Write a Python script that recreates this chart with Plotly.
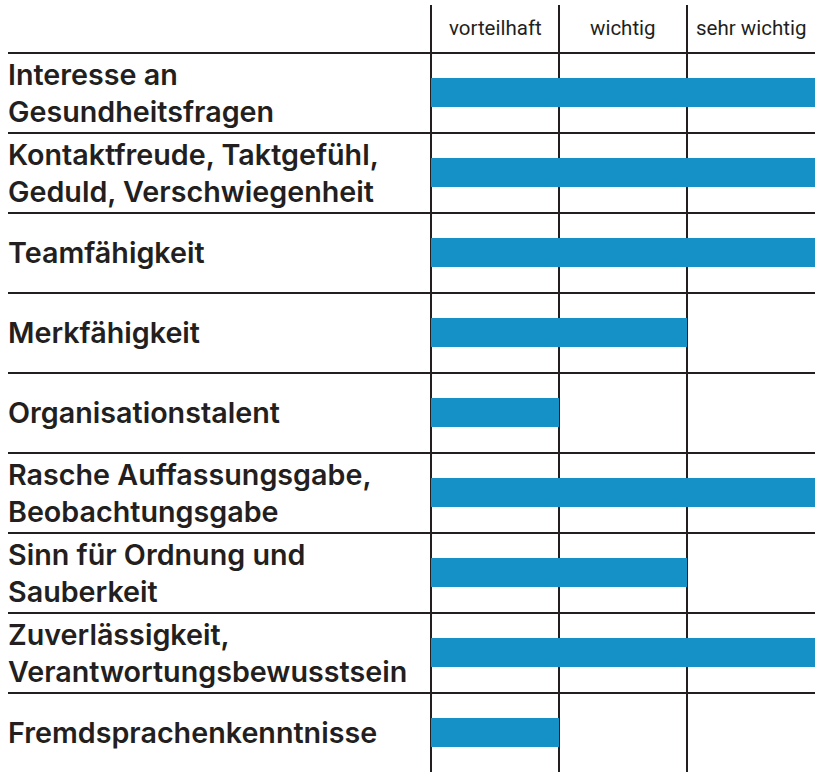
import plotly.graph_objects as go

categories = [
    "Interesse an<br>Gesundheitsfragen",
    "Kontaktfreude, Taktgefühl,<br>Geduld, Verschwiegenheit",
    "Teamfähigkeit",
    "Merkfähigkeit",
    "Organisationstalent",
    "Rasche Auffassungsgabe,<br>Beobachtungsgabe",
    "Sinn für Ordnung und<br>Sauberkeit",
    "Zuverlässigkeit,<br>Verantwortungsbewusstsein",
    "Fremdsprachenkenntnisse",
]
values = [3, 3, 3, 2, 1, 3, 2, 3, 1]
levels = ["vorteilhaft", "wichtig", "sehr wichtig"]

BAR = "#1591C8"
INK = "#231F20"
rows = list(range(len(categories)))

fig = go.Figure()
fig.add_trace(go.Bar(
    x=values, y=rows, base=0, orientation="h",
    marker=dict(color=BAR, line=dict(width=0)),
    width=0.3625, hoverinfo="skip",
))

annotations = []
for i, lab in enumerate(categories):
    annotations.append(dict(
        x=0, xref="paper", y=i, yref="y", text=lab, showarrow=False,
        xanchor="left", yanchor="middle", align="left", xshift=-2,
        font=dict(family="Inter", size=28.7, color=INK, weight=600),
    ))
for j, lv in enumerate(levels):
    annotations.append(dict(
        x=j + 0.5, xref="x", y=-0.81, yref="y", text=lv, showarrow=False,
        xanchor="center", yanchor="middle",
        font=dict(family="Roboto", size=20.5, color=INK, weight=400),
    ))

fig.update_layout(
    width=821, height=784,
    margin=dict(l=8, r=6, t=5, b=12),
    paper_bgcolor="white", plot_bgcolor="white",
    showlegend=False,
    annotations=annotations,
    xaxis=dict(range=[-3.3047, 3.0], tickvals=[0, 1, 2], showticklabels=False,
               showgrid=True, gridcolor=INK, gridwidth=1.5, zeroline=False,
               showline=False, fixedrange=True),
    yaxis=dict(range=[8.49375, -1.09375], tickvals=[i - 0.5 for i in range(len(categories))],
               showticklabels=False, showgrid=True, gridcolor=INK, gridwidth=1.5,
               zeroline=False, showline=False, fixedrange=True),
)

fig.write_html("out.html")
